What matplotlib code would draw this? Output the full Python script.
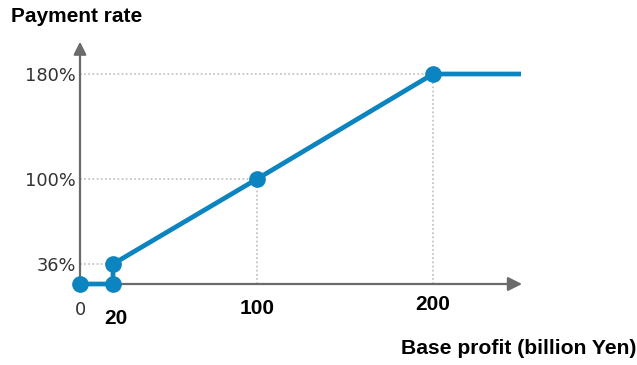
import numpy as np
import matplotlib
matplotlib.use("Agg")
import matplotlib.pyplot as plt

# ---- data ----
profit = [0, 20, 20, 100, 200, 250]          # base profit (billion Yen)
rate = [0, 0, 36, 100, 180, 180]             # payment rate (%)
marker_profit = [0, 20, 20, 100, 200]
marker_rate = [0, 0, 36, 100, 180]
ytick_values = [36, 100, 180]
ytick_labels = ["36%", "100%", "180%"]
xtick_values = [0, 20, 100, 200]
xtick_labels = ["0", "20", "100", "200"]
guide_h = [(36, 20), (100, 100), (180, 200)]   # (rate, up to profit)
guide_v = [(100, 100), (200, 180)]             # (profit, up to rate)

BLUE = "#0b84c0"
AXIS = "#6b6b6b"
GUIDE = "#bdbdbd"

# schematic (non-linear) scales, piecewise linear
xk_d = np.array([-50, 0, 20, 100, 200, 400], float)
xk_p = np.array([-82.5, 0, 33, 177, 353, 705], float)
yk_d = np.array([-50, 0, 36, 100, 180, 300], float)
yk_p = np.array([-27.8, 0, 20, 105, 210, 367.5], float)

def xf(v): return np.interp(v, xk_d, xk_p)
def xi(v): return np.interp(v, xk_p, xk_d)
def yf(v): return np.interp(v, yk_d, yk_p)
def yi(v): return np.interp(v, yk_p, yk_d)

W, H = 637, 365
fig = plt.figure(figsize=(W / 100, H / 100), dpi=100)
left_px, right_px, top_px, base_px = 80, 540, 38, 284
ax = fig.add_axes([left_px / W, (H - base_px) / H,
                   (right_px - left_px) / W, (base_px - top_px) / H])
ax.set_xscale("function", functions=(xf, xi))
ax.set_yscale("function", functions=(yf, yi))
ax.set_xlim(0, xi(right_px - left_px))
ax.set_ylim(0, yi(base_px - top_px))
for s in ax.spines.values():
    s.set_visible(False)
ax.patch.set_alpha(0)

# axes arrows
ax.annotate("", xy=(0.961, 0), xytext=(0, 0), xycoords="axes fraction",
            arrowprops=dict(arrowstyle="-|>", color=AXIS, lw=1.6,
                            mutation_scale=21, shrinkA=0, shrinkB=0))
ax.annotate("", xy=(0, 0.985), xytext=(0, 0), xycoords="axes fraction",
            arrowprops=dict(arrowstyle="-|>", color=AXIS, lw=1.6,
                            mutation_scale=19, shrinkA=0, shrinkB=0))

# guide lines
for r, p in guide_h:
    ax.plot([0, p], [r, r], ls=(0, (1, 1.5)), color=GUIDE, lw=1.2, zorder=1)
for p, r in guide_v:
    ax.plot([p, p], [0, r], ls=(0, (1, 1.5)), color=GUIDE, lw=1.2, zorder=1)

# main line + markers
ax.plot(profit, rate, color=BLUE, lw=3.4, solid_capstyle="butt",
        zorder=3, clip_on=False)
ax.plot(marker_profit, marker_rate, "o", color=BLUE, ms=11, zorder=4,
        clip_on=False)

# y tick labels
ax.set_yticks(ytick_values)
ax.set_yticklabels(ytick_labels, fontfamily="DejaVu Sans", fontsize=12.8,
                   color="#333333")
ax.tick_params(axis="y", length=0, pad=3)
ax.set_xticks([])

# x tick labels (schematic placement)
offsets = {0: (1, -26), 20: (3, -34), 100: (0, -25), 200: (0, -20)}
for v, lab in zip(xtick_values, xtick_labels):
    dx, dy = offsets[v]
    if v == 0:
        kw = dict(fontfamily="DejaVu Sans", fontsize=12.8, color="#333333")
    else:
        kw = dict(fontfamily="Liberation Sans", fontsize=15,
                  fontweight="bold", color="black")
    ax.annotate(lab, xy=(v, 0), xytext=(dx, dy), textcoords="offset pixels",
                ha="center", va="center", annotation_clip=False, **kw)

fig.text(11 / W, (H - 17) / H, "Payment rate", fontfamily="Liberation Sans",
         fontsize=15, fontweight="bold", ha="left", va="center")
fig.text(636 / W, (H - 348) / H, "Base profit (billion Yen)",
         fontfamily="Liberation Sans", fontsize=15.2, fontweight="bold",
         ha="right", va="center")

fig.savefig("out.png", dpi=100)
